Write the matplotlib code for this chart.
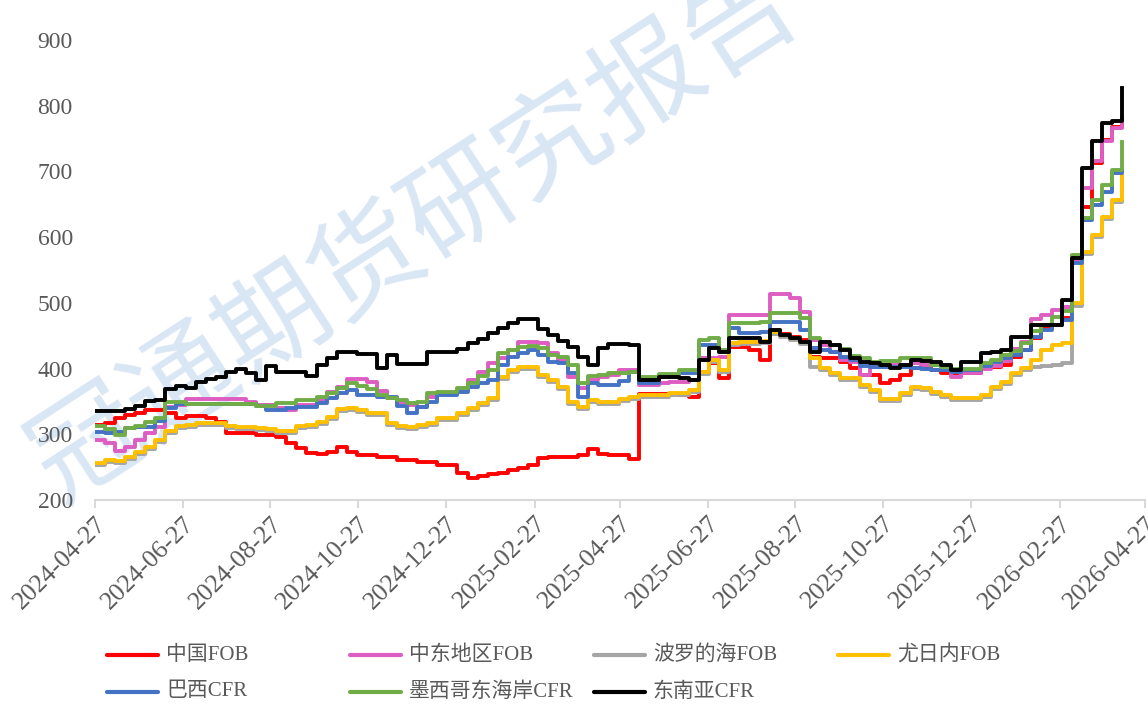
import matplotlib.pyplot as plt
import matplotlib.dates as mdates
from matplotlib.lines import Line2D
import pandas as pd

#=================================================================================
# weekly prices (2024-04-27 .. 2026-04-11)
dates = pd.date_range('2024-04-27', periods=103, freq='7D')

china_fob = [314,317,325,329,333,337,337,332,325,328, 328,325,319,302,302,302,299,299,296,287,
             279,272,270,273,281,273,268,268,265,265, 261,261,258,258,253,253,241,233,236,239,
             241,245,248,253,264,265,265,266,268,278, 270,269,269,262,362,362,362,362,360,357,
             395,408,385,433,433,428,413,459,452,448, 443,418,416,416,410,401,390,390,378,383,
             390,401,401,398,393,393,393,393,401,403, 406,418,428,446,461,466,477,565,646,713,
             748,768,781]
mideast_fob = [291,287,274,281,291,302,311,342,345,353, 353,353,353,353,353,349,345,345,340,337,
               345,345,352,365,372,384,384,380,366,355, 349,345,342,357,363,363,367,383,395,408,
               416,428,441,441,439,424,413,387,370,383, 387,390,398,398,375,375,378,380,380,382,
               416,416,418,481,481,481,481,513,513,507, 486,444,436,425,413,410,390,403,403,405,
               406,408,406,406,403,387,393,393,400,404, 412,430,440,475,482,489,494,562,675,716,
               746,766,778]
baltic_fob = [254,258,257,263,270,278,288,302,309,311, 314,314,314,310,308,308,307,305,302,302,
              310,311,316,323,335,337,334,330,330,314, 310,308,311,314,322,322,330,337,345,352,
              384,395,399,399,387,380,369,346,339,349, 346,346,350,354,357,357,357,360,360,364,
              392,410,395,436,437,437,439,452,448,443, 438,403,398,390,383,383,372,364,350,350,
              360,369,367,362,357,352,352,352,357,369, 377,390,398,403,404,406,408,495,575,600,
              628,654,692]
yuzhny_fob = [257,261,260,266,273,281,291,305,312,314, 317,317,317,313,311,311,310,308,305,305,
              313,314,319,326,338,340,337,333,333,317, 313,311,314,317,325,325,333,340,348,355,
              387,398,402,402,390,383,372,349,342,352, 349,349,353,357,360,360,360,363,363,367,
              395,413,398,439,440,440,442,455,451,446, 441,416,401,393,386,386,375,367,353,353,
              363,372,370,365,360,355,355,355,360,372, 380,393,401,413,428,436,439,500,578,603,
              631,657,695]
brazil_cfr = [304,302,304,309,311,311,320,340,346,346, 346,346,346,346,346,346,343,337,337,340,
              342,342,348,355,363,367,360,360,357,357, 343,332,342,349,360,360,365,372,378,383,
              405,418,424,428,421,410,408,393,357,378, 375,375,381,395,378,378,387,387,393,393,
              436,436,425,462,454,454,456,471,471,471, 459,431,428,425,418,413,404,403,403,403,
              403,401,400,398,398,395,398,398,404,410, 416,421,428,448,459,466,474,560,626,649,
              669,698,700]
mexico_cfr = [312,308,299,309,313,318,325,349,349,346, 346,346,346,346,346,346,343,343,347,347,
              352,352,357,363,370,378,373,369,360,355, 352,347,349,363,365,365,370,378,388,398,
              423,428,433,435,431,421,418,406,378,389, 390,393,393,395,387,387,392,392,398,398,
              444,446,428,469,469,469,471,484,484,484, 477,446,441,436,430,419,416,410,411,411,
              416,416,416,406,403,400,400,400,408,413, 420,427,439,457,466,478,488,573,629,657,
              680,702,745]
sea_cfr = [335,335,335,338,343,350,352,369,373,370, 380,384,387,395,399,393,383,404,395,395,
           395,389,405,416,425,425,422,422,401,421, 407,407,407,425,425,425,430,439,445,454,
           462,469,475,475,460,451,442,433,418,406, 431,437,437,436,383,383,387,387,385,383,
           413,431,425,446,446,446,441,459,451,446, 441,425,441,436,428,416,410,408,406,401,
           406,413,412,410,406,398,410,410,424,425, 428,448,448,466,466,466,504,568,705,746,
           774,777,827]

names = ['中国FOB', '中东地区FOB', '波罗的海FOB', '尤日内FOB', '巴西CFR', '墨西哥东海岸CFR', '东南亚CFR']
series = [china_fob, mideast_fob, baltic_fob, yuzhny_fob, brazil_cfr, mexico_cfr, sea_cfr]
colors = ['#FF0000', '#DE5DC2', '#A5A5A5', '#FFC000', '#4472C4', '#70AD47', '#000000']
#=================================================================================
W, H = 1148, 704
fig = plt.figure(figsize=(W/100, H/100), dpi=100)
ax = fig.add_axes([95/W, 1-500/H, 1050/W, 460/H])

tick_font = ['Liberation Serif', 'Noto Sans CJK SC']
txt_color = '#595959'

# watermark
ax.text(0.305, 0.58, '冠通期货研究报告', transform=ax.transAxes, rotation=33,
        fontsize=80, color='#d9e6f4', ha='center', va='center', clip_on=False,
        zorder=0.5, family=['Noto Sans CJK SC'], fontweight='light')

for vals, c, n in zip(series, colors, names):
    ax.plot(dates, vals, drawstyle='steps-post', color=c, lw=2.8, label=n, zorder=2)

ax.set_ylim(200, 900)
ax.set_yticks(range(200, 901, 100))
ax.set_xlim(pd.Timestamp('2024-04-27'), pd.Timestamp('2026-04-27'))
ax.xaxis.set_major_locator(mdates.MonthLocator(bymonth=[2, 4, 6, 8, 10, 12], bymonthday=27))
ax.xaxis.set_major_formatter(mdates.DateFormatter('%Y-%m-%d'))

for s in ['top', 'right', 'left']:
    ax.spines[s].set_visible(False)
ax.spines['bottom'].set_color('#d9d9d9')
ax.spines['bottom'].set_linewidth(1.5)
ax.tick_params(axis='y', length=0, pad=16, labelcolor=txt_color, labelsize=17)
ax.tick_params(axis='x', length=6, width=1.5, color='#d9d9d9', pad=3,
               labelcolor=txt_color, labelsize=18.5)
for lab in ax.get_yticklabels() + ax.get_xticklabels():
    lab.set_family(tick_font)
for lab in ax.get_xticklabels():
    lab.set_rotation(45)
    lab.set_ha('right')
    lab.set_rotation_mode('anchor')

# legend, laid out like the spreadsheet (fixed column slots)
col_x = [107, 350, 594, 838]
row_y = [655, 692]
for i, (n, c) in enumerate(zip(names, colors)):
    r, k = divmod(i, 4)
    x0 = col_x[k]
    y0 = 1 - row_y[r]/H
    fig.add_artist(Line2D([x0/W, (x0+51)/W], [y0, y0], transform=fig.transFigure,
                          color=c, lw=3, solid_capstyle='round'))
    fig.text((x0+59)/W, y0, n, va='center', ha='left', fontsize=15,
             color=txt_color, family=tick_font)

plt.savefig('out.png', dpi=100)
